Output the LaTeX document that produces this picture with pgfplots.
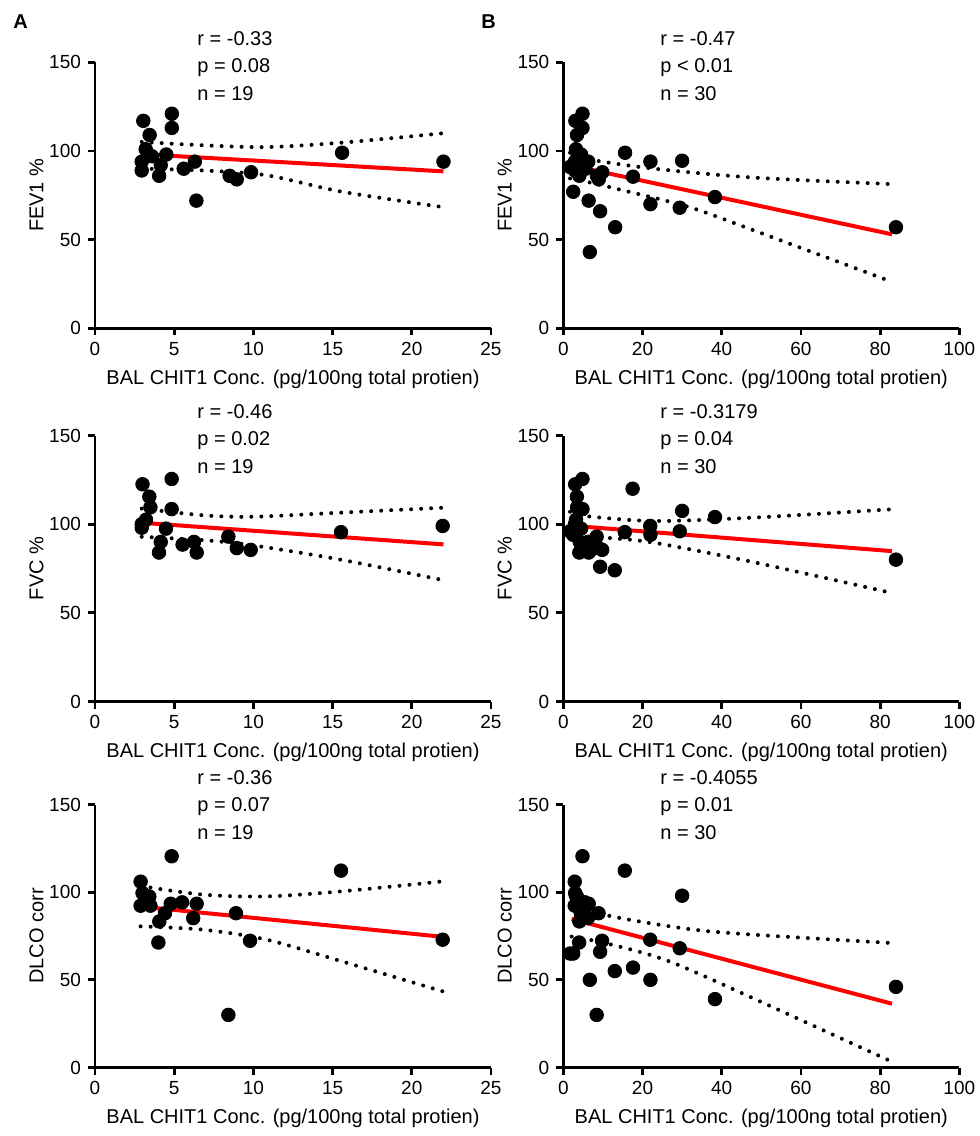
\documentclass[border=0pt]{standalone}
\usepackage{fontspec}
\setmainfont{Liberation Sans}
\usepackage{pgfplots}
\pgfplotsset{compat=1.18}

\pgfplotsset{
  panel/.style={
    scale only axis, width=198pt, height=133pt,
    ymin=0, ymax=150, ytick={0,50,100,150},
    axis x line*=bottom, axis y line*=left,
    axis line style={-, line width=1.4pt},
    tick style={line width=1.4pt, black}, major tick length=3.5pt, tick align=outside,
    ticklabel style={font=\fontsize{9.5}{11}\selectfont},
    label style={font=\fontsize{10}{12}\selectfont},
    ylabel shift=-4pt,
    xlabel={BAL CHIT1 Conc. (pg/100ng total protien)},
    /pgf/number format/assume math mode=true,
    clip=false,
  },
  colA/.style={panel, xmin=0, xmax=25, xtick={0,5,...,25}},
  colB/.style={panel, xmin=0, xmax=100, xtick={0,20,...,100}},
  pts/.style={only marks, mark=*, mark size=3.4pt, black},
  fit/.style={red, line width=2pt, no marks},
  band/.style={black, line width=2pt, line cap=round, dash pattern=on 0pt off 5pt, smooth, no marks},
}
\tikzset{stat/.style={anchor=base west, inner sep=0pt, font=\fontsize{10}{12}\selectfont}}

\begin{document}
\begin{tikzpicture}
\useasboundingbox (0,0) rectangle (490pt,-568pt);

% ---- row 1: FEV1 ----
\begin{axis}[colA, at={(47.5pt,-164.15pt)}, ylabel={FEV1 \%}]
  \addplot[band] coordinates {(2.95,105.1) (6.84,103.2) (10.84,102.2) (15.6,104.7) (22,110)};
  \addplot[band] coordinates {(2.95,90) (6.84,89) (10.84,86.3) (15.6,77) (22,68.3)};
  \addplot[fit] coordinates {(2.95,98.2) (22,88.5)};
  \addplot[pts] coordinates {
    (3.05,117) (4.85,121) (4.85,113) (3.45,109) (3.2,101) (4.5,98) (3.6,97)
    (2.95,94) (6.3,94) (4.15,92) (2.95,89) (5.6,90) (4.05,86) (6.4,72)
    (8.5,86) (8.95,84) (9.85,88) (15.6,99) (22.0,94)};
\end{axis}
\begin{axis}[colB, at={(281.65pt,-164.15pt)}, ylabel={FEV1 \%}]
  \addplot[band] coordinates {(1.7,99) (7.2,95) (23,90) (48,85) (83,81.3)};
  \addplot[band] coordinates {(1.7,84.5) (4.2,83.5) (14.7,78) (31.6,68.5) (46.8,56.3) (83,26.2)};
  \addplot[fit] coordinates {(1.7,92) (83,53)};
  \addplot[pts] coordinates {
    (3.05,117) (4.85,121) (4.85,113) (3.45,109) (3.2,101) (4.5,98) (3.6,97)
    (2.95,94) (6.3,94) (4.15,92) (2.95,89) (5.6,90) (4.05,86) (6.4,72)
    (8.5,86) (8.95,84) (9.85,88) (15.6,99) (22.0,94)
    (1.7,91) (2.5,77) (9.3,66) (6.7,43) (13.1,57) (17.6,85.5) (22,70)
    (30,94.5) (29.4,68) (38.3,74) (84,57)};
\end{axis}

% ---- row 2: FVC ----
\begin{axis}[colA, at={(47.5pt,-350.75pt)}, ylabel={FVC \%}]
  \addplot[band] coordinates {(2.95,108.8) (6.84,105) (10,104.2) (15.5,106.5) (22,109.3)};
  \addplot[band] coordinates {(2.95,92.9) (6.84,91) (10,88) (15.5,80) (22,68.4)};
  \addplot[fit] coordinates {(2.95,100.8) (22,88.6)};
  \addplot[pts] coordinates {
    (3.0,122.5) (4.84,125.5) (3.43,115.5) (3.5,109.5) (4.84,108.5) (3.22,102.5)
    (2.95,98) (2.95,100) (4.48,97.5) (4.15,90) (4.04,84) (5.53,88.5) (6.25,90)
    (6.42,84) (8.42,93) (8.95,86.5) (9.83,85.5) (15.53,95.5) (21.95,99)};
\end{axis}
\begin{axis}[colB, at={(281.65pt,-350.75pt)}, ylabel={FVC \%}]
  \addplot[band] coordinates {(1.7,107) (5.5,104.6) (23,101.8) (48,103.7) (83,108.4)};
  \addplot[band] coordinates {(1.7,93.5) (10.5,92.4) (23,89.5) (48,78.6) (83,61.2)};
  \addplot[fit] coordinates {(1.7,99.2) (83,84.8)};
  \addplot[pts] coordinates {
    (3.0,122.5) (4.84,125.5) (3.43,115.5) (3.5,109.5) (4.84,108.5) (3.22,102.5)
    (2.95,98) (2.95,100) (4.48,97.5) (4.15,90) (4.04,84) (5.53,88.5) (6.25,90)
    (6.42,84) (8.42,93) (8.95,86.5) (9.83,85.5) (15.53,95.5) (21.95,99)
    (1.7,96) (2.5,94) (9.3,76) (6.7,85) (13.0,74) (17.5,120) (22,94)
    (30,107.5) (29.4,96) (38.3,104) (84,80)};
\end{axis}

% ---- row 3: DLCO ----
\begin{axis}[colA, at={(47.5pt,-533.75pt)}, height=131.5pt, ylabel={DLCO corr}]
  \addplot[band] coordinates {(2.88,103.5) (6.84,98.6) (10.84,97.6) (15.6,100.5) (22,106.2)};
  \addplot[band] coordinates {(2.88,80.5) (6.84,78.6) (10.84,72.9) (15.6,60.5) (22,43.3)};
  \addplot[fit] coordinates {(2.88,91.8) (22,74.5)};
  \addplot[pts] coordinates {
    (2.88,106) (4.84,120.5) (3.0,99.5) (3.43,97.5) (2.88,92.3) (3.5,92.3)
    (4.78,93.4) (5.5,94.2) (6.42,93.4) (4.42,88) (4.06,83.3) (6.2,85.2)
    (8.9,88) (4.0,71.3) (9.79,72.3) (15.53,112.3) (21.95,72.9) (8.42,30) (3.2,98)};
\end{axis}
\begin{axis}[colB, at={(281.65pt,-533.75pt)}, height=131.5pt, ylabel={DLCO corr}]
  \addplot[band] coordinates {(2.1,94) (11.4,86.6) (31.6,79) (48.4,75.7) (83,71)};
  \addplot[band] coordinates {(2.1,74.7) (10.5,71) (23.2,63.3) (35.8,51.9) (83,3.3)};
  \addplot[fit] coordinates {(2.1,84.7) (83,36.4)};
  \addplot[pts] coordinates {
    (2.88,106) (4.84,120.5) (3.0,99.5) (3.43,97.5) (2.88,92.3) (3.5,92.3)
    (4.78,93.4) (5.5,94.2) (6.42,93.4) (4.42,88) (4.06,83.3) (6.2,85.2)
    (8.9,88) (4.0,71.3) (9.79,72.3) (15.53,112.3) (21.95,72.9) (8.42,30) (3.2,98)
    (1.7,65) (2.5,65) (9.3,66) (6.7,50) (13.0,55) (17.6,57) (22,50)
    (30,98) (29.4,68) (38.3,39) (84,46)};
\end{axis}

% ---- panel letters and statistics ----
\node[anchor=base west, inner sep=0pt, font=\bfseries\fontsize{10}{12}\selectfont] at (6.5pt,-14pt) {A};
\node[anchor=base west, inner sep=0pt, font=\bfseries\fontsize{10}{12}\selectfont] at (240.5pt,-14pt) {B};

\node[stat] at (98.5pt,-22.5pt) {r = -0.33};
\node[stat] at (98.5pt,-36.25pt) {p = 0.08};
\node[stat] at (98.5pt,-50pt) {n = 19};
\node[stat] at (330pt,-22.5pt) {r = -0.47};
\node[stat] at (330pt,-36.25pt) {p < 0.01};
\node[stat] at (330pt,-50pt) {n = 30};

\node[stat] at (98.5pt,-209.1pt) {r = -0.46};
\node[stat] at (98.5pt,-222.85pt) {p = 0.02};
\node[stat] at (98.5pt,-236.6pt) {n = 19};
\node[stat] at (330pt,-209.1pt) {r = -0.3179};
\node[stat] at (330pt,-222.85pt) {p = 0.04};
\node[stat] at (330pt,-236.6pt) {n = 30};

\node[stat] at (98.5pt,-392.1pt) {r = -0.36};
\node[stat] at (98.5pt,-405.85pt) {p = 0.07};
\node[stat] at (98.5pt,-419.6pt) {n = 19};
\node[stat] at (330pt,-392.1pt) {r = -0.4055};
\node[stat] at (330pt,-405.85pt) {p = 0.01};
\node[stat] at (330pt,-419.6pt) {n = 30};
\end{tikzpicture}
\end{document}
